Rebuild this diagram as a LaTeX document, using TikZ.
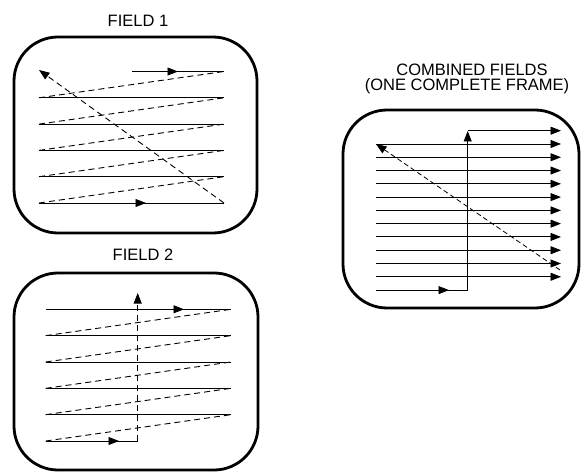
\documentclass[tikz,border=0pt]{standalone}
\usepackage{fontspec}
\setmainfont{Liberation Sans}
\usetikzlibrary{arrows.meta}
\begin{document}
\begin{tikzpicture}[x=1pt,y=-1pt,
  frame/.style={line width=2.8pt,rounded corners=44pt},
  scan/.style={line width=0.9pt},
  retrace/.style={line width=0.9pt,dash pattern=on 6pt off 4pt},
  tip/.style={-{Triangle[length=10.5pt,width=8pt]}},
  lbl/.style={font=\fontsize{16.5}{18}\selectfont,align=center,inner sep=0pt}]
\useasboundingbox (0,0) rectangle (581,473);
% ---------- FIELD 1 ----------
\node[lbl] (t1) at (138,21) {FIELD 1};
\draw[frame] (14,37) rectangle (257,233);
\foreach \i in {1,...,4} {\draw[scan] (39,{71.5+26.3*\i}) -- (224,{71.5+26.3*\i});}
\draw[scan,tip] (132,71.5) -- (178,71.5);
\draw[scan] (176,71.5) -- (224,71.5);
\draw[scan,tip] (39,203) -- (146,203);
\draw[scan] (144,203) -- (224,203);
\foreach \i in {0,...,4} {\draw[retrace] (39,{71.5+26.3*(\i+1)}) -- (224,{71.5+26.3*\i});}
\draw[retrace,tip] (224,203) -- (39,70);
% ---------- FIELD 2 ----------
\node[lbl] (t2) at (143,255) {FIELD 2};
\draw[frame] (14,273) rectangle (258,470);
\foreach \i in {1,...,4} {\draw[scan] (45.7,{309.3+26.34*\i}) -- (231,{309.3+26.34*\i});}
\draw[scan,tip] (45.7,309.3) -- (184,309.3);
\draw[scan] (182,309.3) -- (231,309.3);
\draw[scan,tip] (45.7,441) -- (119,441);
\draw[scan] (117,441) -- (137.7,441);
\foreach \i in {0,...,4} {\draw[retrace] (45.7,{309.3+26.34*(\i+1)}) -- (231,{309.3+26.34*\i});}
\draw[retrace,tip] (137.7,441) -- (137.7,293);
% ---------- COMBINED ----------
\node[lbl] (t3) at (472,70) {COMBINED FIELDS};
\node[lbl] (t4) at (467,86.5) {(ONE COMPLETE FRAME)};
\draw[frame] (343,110) rectangle (579,308);
\draw[scan,tip] (467.7,130.7) -- (561,130.7);
\foreach \i in {1,...,11} {\draw[scan,tip] (375.7,{130.7+13.28*\i}) -- (561,{130.7+13.28*\i});}
\draw[scan,tip] (375.7,290.1) -- (449,290.1);
\draw[scan] (447,290.1) -- (467.7,290.1);
\draw[scan,tip] (467.7,290.1) -- (467.7,131);
\draw[retrace,line width=0.8pt,dash pattern=on 5pt off 3pt,tip] (560,270) -- (376,144);
\end{tikzpicture}
\end{document}
